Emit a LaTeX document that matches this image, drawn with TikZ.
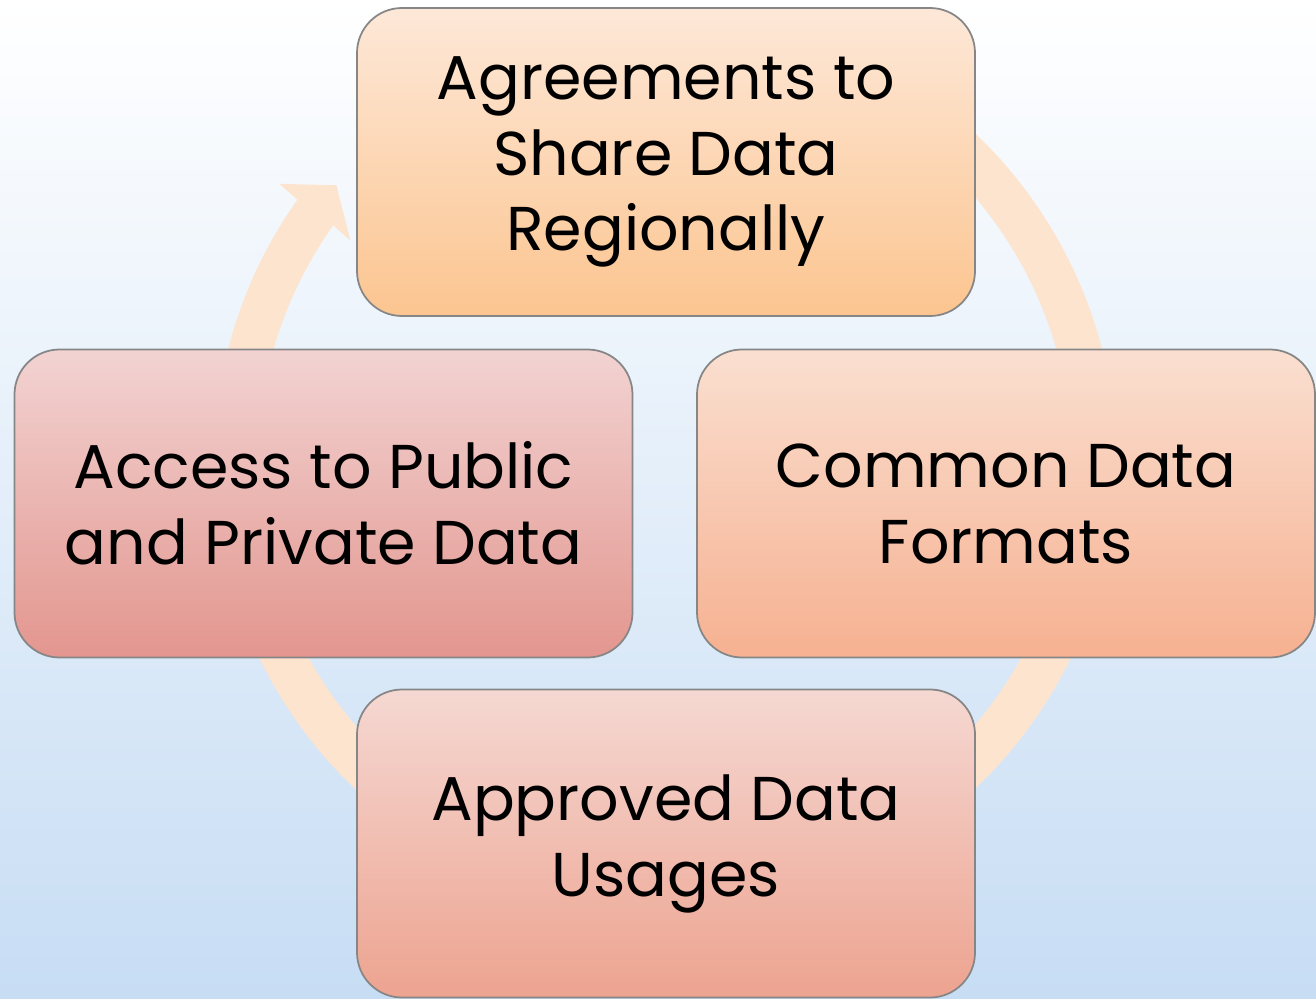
\documentclass[tikz,border=0pt]{standalone}
\usepackage{fontspec}
\setmainfont{Poppins}
\definecolor{bgblue}{HTML}{C7DDF4}
\definecolor{bandpeach}{HTML}{FDE4CF}
\definecolor{topA}{HTML}{FDE8D8}
\definecolor{topB}{HTML}{FCC590}
\definecolor{leftA}{HTML}{F2D3D2}
\definecolor{leftB}{HTML}{E3968F}
\definecolor{rightA}{HTML}{FADFD0}
\definecolor{rightB}{HTML}{F6B191}
\definecolor{botA}{HTML}{F5D8D2}
\definecolor{botB}{HTML}{EDA390}
\begin{document}
\begin{tikzpicture}
		\tikzset{box/.style = {shape=rectangle, rounded corners=.45cm, draw=gray!95, line width=.5pt,
			minimum width=6.18cm, minimum height=3.08cm, align=center, inner sep=0pt,
			font=\fontsize{17.6}{21.6}\selectfont}}
		% Background
		\shade[top color=white, bottom color=bgblue] (0,0) rectangle (13.16,-9.99);
		\useasboundingbox (0,0) rectangle (13.16,-9.99);
		% Draw cycle arrow
		\fill[bandpeach, shift={(6.65,-4.61)}] (120:4.51) arc[start angle=120, end angle=-215.4, radius=4.51]
			-- (144.3:4.75) -- (140:4.29) -- (145.0:3.84) -- (144.6:4.07)
			arc[start angle=-215.4, end angle=120, radius=4.07] -- cycle;
		% Draw boxes
		\node[box, top color=topA, bottom color=topB] (share) at (6.66,-1.62) {Agreements to\\Share Data\\Regionally};
		\node[box, top color=rightA, bottom color=rightB] (formats) at (10.06,-5.035) {Common Data\\Formats};
		\node[box, top color=botA, bottom color=botB] (usages) at (6.66,-8.435) {Approved Data\\Usages};
		\node[box, top color=leftA, bottom color=leftB] (access) at (3.235,-5.035) {Access to Public\\and Private Data};
	\end{tikzpicture}
\end{document}
